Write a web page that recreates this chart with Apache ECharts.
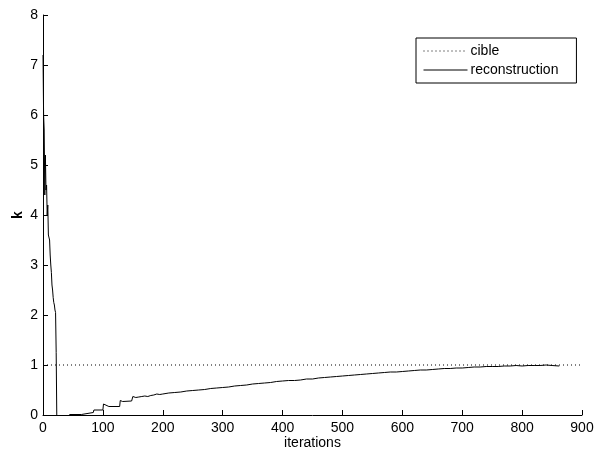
<!DOCTYPE html>
<html>
<head>
<meta charset="utf-8">
<script src="https://cdn.jsdelivr.net/npm/echarts@6/dist/echarts.min.js"></script>
<style>html,body{margin:0;padding:0;background:#fff;}#c{width:594px;height:452px;}</style>
</head>
<body>
<div id="c"></div>
<script>
// x tick labels / y tick labels
const xTicks = [0,100,200,300,400,500,600,700,800,900];
const yTicks = [0,1,2,3,4,5,6,7,8];

// "cible" target value
const cibleX = [0, 900];
const cibleK = [1, 1];

// reconstruction: iteration numbers and k values
const reconIter = [
  0,1,2,3,4,5,6,7,8,9,10,11,12,13,14,15,16,17,18,19,20,21,22,22,23,
  null,
  44,64,65,84,85,100,101,104,110,128,129,133,148,150,155,160,165,170,175,180,185,190,195,200,
  210,220,230,240,250,260,270,280,290,300,310,320,330,340,350,360,370,380,390,400,
  410,420,430,440,450,460,470,480,490,500,510,520,530,540,550,560,570,580,590,600,
  610,620,630,640,650,660,670,680,690,700,710,720,730,740,750,760,770,780,790,800,
  810,820,830,840,850,862
];
const reconK = [
  7.2,6.0,5.7,4.4,5.2,4.5,4.6,4.0,4.2,3.6,3.6,3.5,3.2,3.0,2.85,2.6,2.5,2.35,2.25,2.2,2.1,2.05,2.05,1.25,0,
  null,
  0.01,0.01,0.05,0.05,0.1,0.1,0.22,0.2,0.17,0.17,0.29,0.27,0.28,0.37,0.35,0.36,0.37,0.38,0.37,0.39,0.40,0.42,0.41,0.42,
  0.44,0.45,0.46,0.48,0.49,0.50,0.51,0.53,0.54,0.55,0.56,0.58,0.59,0.60,0.62,0.63,0.64,0.65,0.67,0.68,
  0.69,0.69,0.70,0.72,0.72,0.74,0.75,0.76,0.77,0.78,0.79,0.80,0.81,0.82,0.83,0.84,0.85,0.86,0.86,0.87,
  0.88,0.89,0.90,0.90,0.91,0.92,0.93,0.93,0.94,0.94,0.95,0.96,0.96,0.97,0.97,0.97,0.98,0.98,0.99,0.98,
  0.99,0.99,0.99,1.00,0.99,0.98
];

const reconData = reconIter.map((x,i) => (x === null ? [null, null] : [x, reconK[i]]));
const cibleData = cibleX.map((x,i) => [x, cibleK[i]]);

const chart = echarts.init(document.getElementById('c'), null, {renderer:'canvas'});
const font = 'Liberation Sans, Arial, sans-serif';
chart.setOption({
  animation: false,
  backgroundColor: '#fff',
  grid: {left: 43, right: 12, top: 15, bottom: 37, containLabel: false, outerBoundsMode: 'none'},
  legend: {
    orient: 'vertical',
    left: 416, top: 38,
    padding: [6, 18, 6, 7],
    itemWidth: 44, itemHeight: 14, itemGap: 5,
    borderColor: '#000', borderWidth: 1, backgroundColor: '#fff',
    itemStyle: {opacity: 0},
    lineStyle: {width: 1},
    textStyle: {fontFamily: font, fontSize: 14, color: '#000', padding: [0,0,0,-2]},
    data: ['cible', 'reconstruction']
  },
  xAxis: {
    type: 'value', min: xTicks[0], max: xTicks[xTicks.length-1], interval: 100,
    name: 'iterations', nameLocation: 'middle', nameGap: 21, nameMoveOverlap: false,
    nameTextStyle: {fontFamily: font, fontSize: 14, color: '#000'},
    axisLine: {lineStyle: {color: '#000', width: 1}},
    axisTick: {inside: true, length: 5, lineStyle: {color: '#000'}},
    axisLabel: {fontFamily: font, fontSize: 14, color: '#000', margin: 6},
    splitLine: {show: false}
  },
  yAxis: {
    type: 'value', min: yTicks[0], max: yTicks[yTicks.length-1], interval: 1,
    name: 'k', nameLocation: 'middle', nameGap: 18, nameRotate: 90, nameMoveOverlap: false,
    nameTextStyle: {fontFamily: font, fontSize: 14, color: '#000', fontWeight: 'bold'},
    axisLine: {lineStyle: {color: '#000', width: 1}},
    axisTick: {inside: true, length: 5, lineStyle: {color: '#000'}},
    axisLabel: {fontFamily: font, fontSize: 14, color: '#000', margin: 5},
    splitLine: {show: false}
  },
  series: [
    {
      name: 'cible', type: 'line', data: cibleData, symbol: 'none',
      lineStyle: {color: '#000', width: 1, type: [1, 3]},
      itemStyle: {color: '#000'}
    },
    {
      name: 'reconstruction', type: 'line', data: reconData, symbol: 'none',
      connectNulls: false,
      lineStyle: {color: '#000', width: 1},
      itemStyle: {color: '#000'}
    }
  ]
});
</script>
</body>
</html>
